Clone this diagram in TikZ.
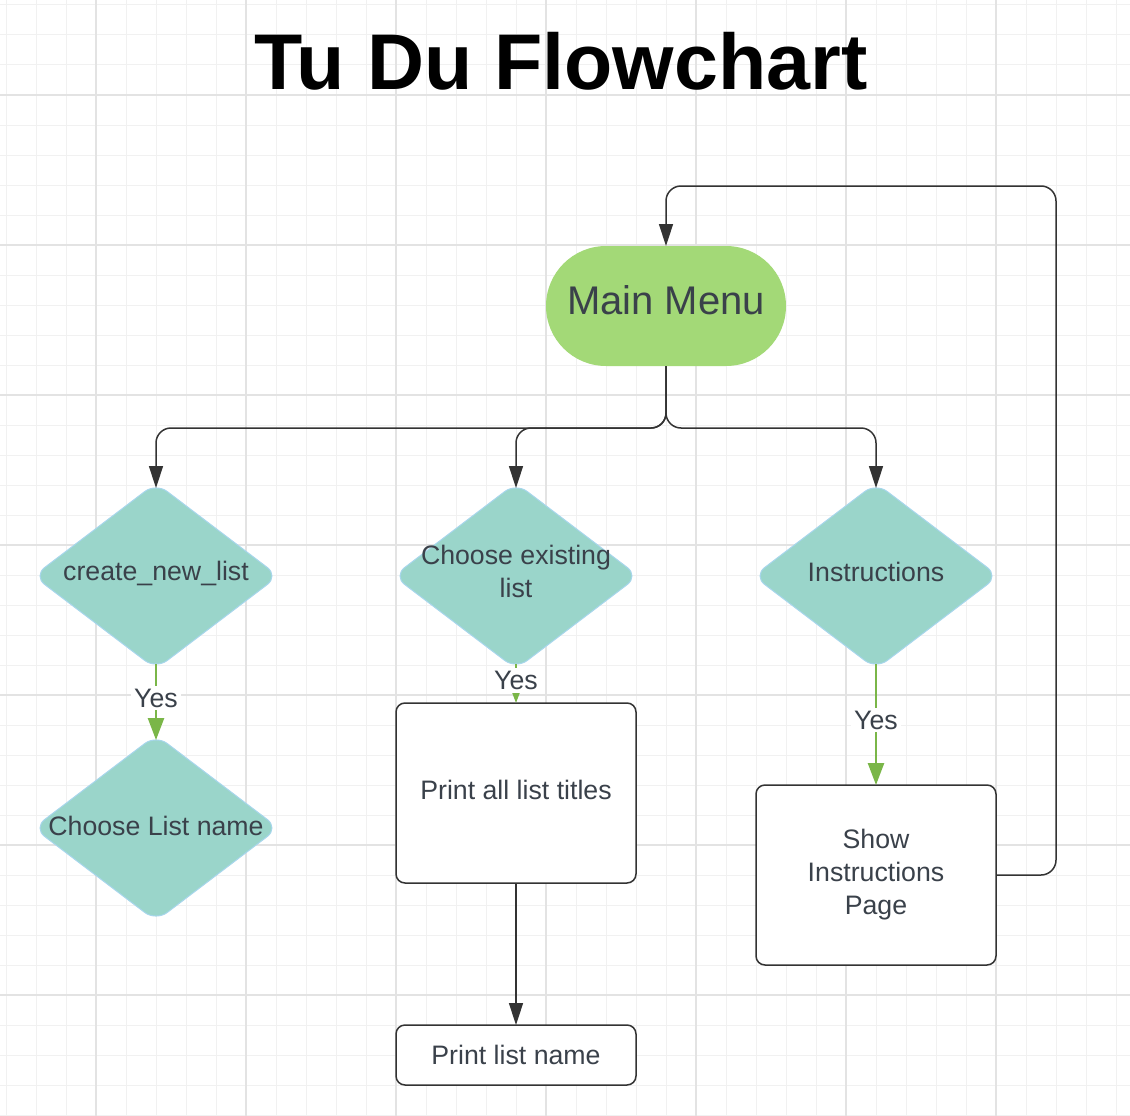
\documentclass[tikz,border=0pt]{standalone}
\usepackage{fontspec}
\setmainfont{Liberation Sans}
\usetikzlibrary{shapes.geometric,arrows.meta}
\definecolor{linec}{HTML}{333333}
\definecolor{greenc}{HTML}{7AB648}
\definecolor{tealc}{HTML}{9AD5CA}
\definecolor{diaborder}{HTML}{A7D6EC}
\definecolor{mmgreen}{HTML}{A3D977}
\definecolor{txt}{HTML}{3A414A}
\definecolor{gridminor}{HTML}{F1F1F1}
\definecolor{gridmajor}{HTML}{E3E3E3}
\tikzset{
  conn/.style={draw=linec, line width=1.5pt, rounded corners=15pt, -{Triangle[length=22pt,width=14pt]}},
  yesline/.style={draw=greenc, line width=2.5pt, -{Triangle[length=22pt,width=16pt]}},
  yeslbl/.style={fill=white, inner sep=3pt, font=\fontsize{26.7}{33}\selectfont, text=txt},
  dia/.style={diamond, fill=tealc, draw=diaborder, line width=1pt, minimum width=245pt, minimum height=186pt, inner sep=0pt, outer sep=0pt, rounded corners=14pt},
  boxn/.style={rectangle, draw=linec, line width=1.5pt, fill=white, rounded corners=9pt, inner sep=0pt, outer sep=0pt, minimum width=240pt, font=\fontsize{26.7}{33}\selectfont, text=txt, align=center},
  lbl/.style={font=\fontsize{26.7}{33}\selectfont, text=txt, align=center, inner sep=0pt},
  minorg/.style={draw=gridminor, line width=1pt},
  majorg/.style={draw=gridmajor, line width=1.2pt},
}
\begin{document}
\begin{tikzpicture}[x=1pt,y=-1pt]
\useasboundingbox (0,0) rectangle (1130,1116);
\fill[white] (0,0) rectangle (1130,1116);
% grid
\foreach \x in {6,36,...,1130} \draw[minorg] (\x,0) -- (\x,1116);
\foreach \y in {5,35,...,1116} \draw[minorg] (0,\y) -- (1130,\y);
\foreach \x in {96,246,...,1130} \draw[majorg] (\x,0) -- (\x,1116);
\foreach \y in {95,245,...,1116} \draw[majorg] (0,\y) -- (1130,\y);
% title
\node[font=\bfseries\fontsize{79}{80}\selectfont, anchor=base, inner sep=0pt] (title) at (561,89) {Tu Du Flowchart};
% main menu
\node[rectangle, fill=mmgreen, rounded corners=60pt, minimum width=240pt, minimum height=120pt, inner sep=0pt, outer sep=0pt, text depth=12pt, font=\fontsize{40}{44}\selectfont, text=txt] (mm) at (666,306) {Main Menu};
% diamonds
\node[dia] (cnl) at (156,576) {};
\node[lbl] (cnlt) at (156,573) {create\_new\_list};
\node[dia] (cel) at (516,576) {};
\node[lbl] (celt) at (516,571) {Choose existing\\list};
\node[dia] (ins) at (876,576) {};
\node[lbl] (inst) at (876,572) {Instructions};
\node[dia] (cln) at (156,828) {};
\node[lbl] (clnt) at (156,826) {Choose List name};
% boxes
\node[boxn, minimum height=180pt, text depth=6pt] (pat) at (516,793) {Print all list titles};
\node[boxn, minimum height=180pt] (sip) at (876,875) {Show\\Instructions\\Page};
\node[boxn, minimum height=60pt] (pln) at (516,1055) {Print list name};
% connectors
\coordinate (jn) at (666,428);
\coordinate (lp) at (1056,186);
\draw[conn, shorten >=-5pt] (mm.south) -- (mm.south |- jn) -| (cnl.north);
\draw[conn, shorten >=-5pt] (mm.south) -- (mm.south |- jn) -| (cel.north);
\draw[conn, shorten >=-5pt] (mm.south) -- (mm.south |- jn) -| (ins.north);
\draw[conn] (pat.south) -- (pln.north);
\draw[conn] (sip.east) -| (lp) -| (mm.north);
\draw[yesline, shorten <=-5pt, shorten >=-5pt] (cnl.south) -- node[yeslbl, pos=0.44] (y1) {Yes} (cln.north);
\draw[yesline, shorten <=-5pt] (cel.south) -- node[yeslbl, pos=0.33] (y2) {Yes} (pat.north);
\draw[yesline, shorten <=-5pt] (ins.south) -- node[yeslbl, pos=0.44] (y3) {Yes} (sip.north);
\end{tikzpicture}
\end{document}
